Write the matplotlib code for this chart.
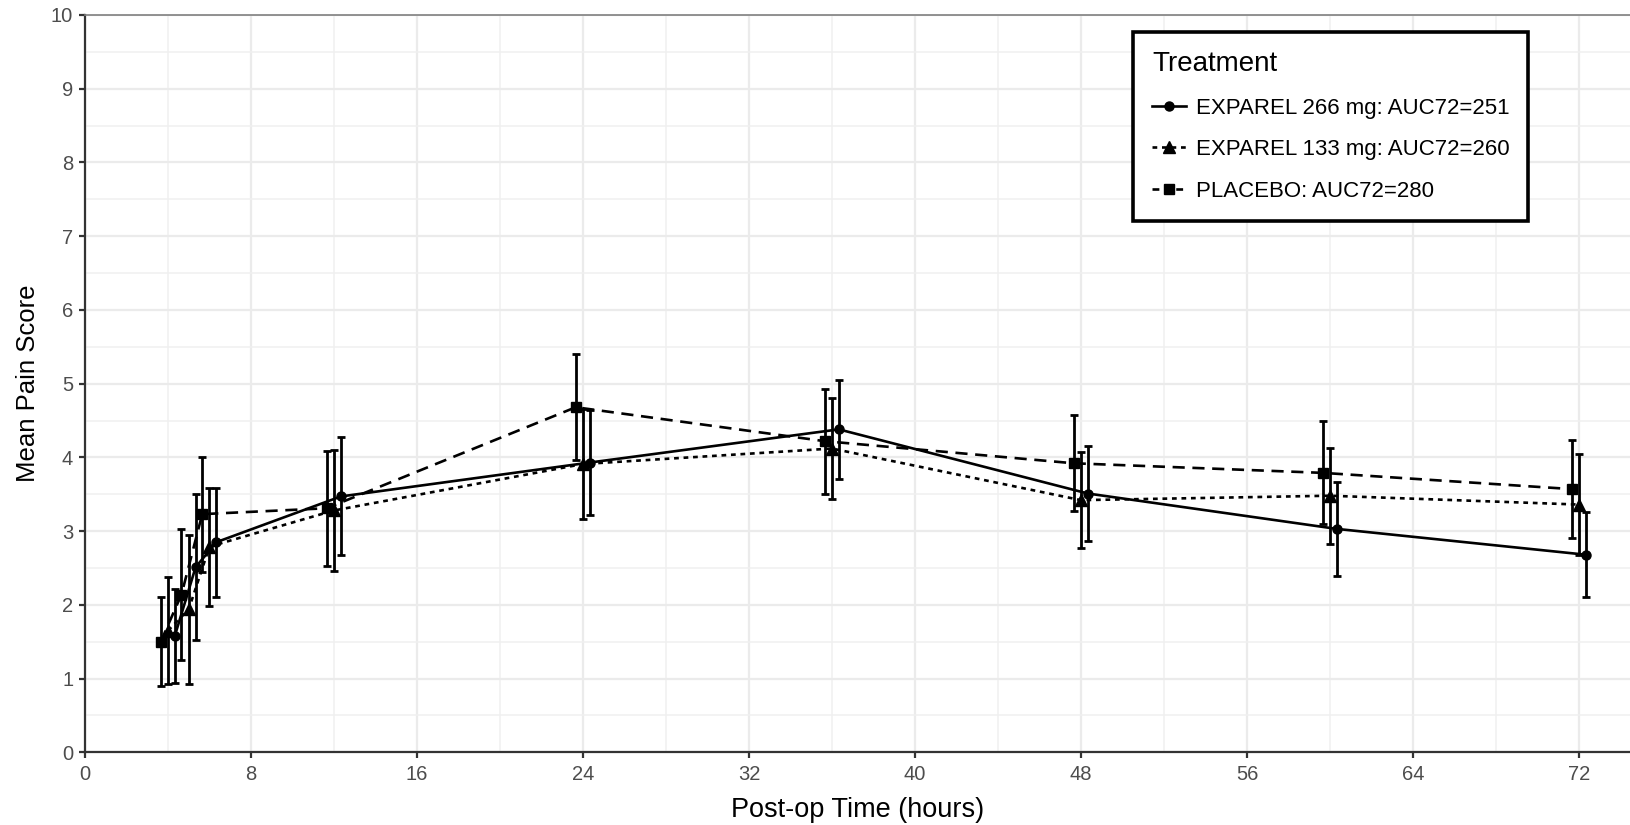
import matplotlib
matplotlib.use("Agg")
import matplotlib.pyplot as plt
from matplotlib.lines import Line2D
import numpy as np

plt.rcParams['font.family'] = ['Liberation Sans', 'DejaVu Sans']

# Nominal assessment times (hours)
times = np.array([4, 5, 6, 12, 24, 36, 48, 60, 72])

# Mean pain score and half-width of the error bar per treatment
mean_266 = [1.58, 2.51, 2.85, 3.47, 3.93, 4.38, 3.51, 3.03, 2.68]
err_266 = [0.64, 0.99, 0.74, 0.80, 0.71, 0.67, 0.65, 0.64, 0.58]

mean_133 = [1.65, 1.94, 2.79, 3.28, 3.91, 4.12, 3.42, 3.48, 3.36]
err_133 = [0.73, 1.01, 0.80, 0.82, 0.75, 0.69, 0.65, 0.65, 0.68]

mean_pbo = [1.50, 2.14, 3.23, 3.31, 4.68, 4.22, 3.92, 3.79, 3.57]
err_pbo = [0.60, 0.89, 0.78, 0.78, 0.72, 0.71, 0.65, 0.70, 0.66]

labels = ['EXPAREL 266 mg: AUC72=251',
          'EXPAREL 133 mg: AUC72=260',
          'PLACEBO: AUC72=280']

fig = plt.figure(figsize=(16.3, 8.25), dpi=100)
ax = fig.add_axes([85 / 1630, 72.7 / 825, 1 - 85 / 1630, (752.3 - 15) / 825])

DOTTED = (0, (1.8, 1.8))
DASHED = (0, (4.6, 2.9))

# series: (means, errors, dodge offset, marker, marker size, line style)
series = [
    (mean_266, err_266, 0.33, 'o', 6.5, '-'),
    (mean_133, err_133, 0.0, '^', 8, DOTTED),
    (mean_pbo, err_pbo, -0.35, 's', 7, DASHED),
]

for means, errs, dx, mk, ms, ls in series:
    x = times + dx
    ax.plot(x, means, color='black', lw=1.9, linestyle=ls, marker=mk,
            markersize=ms, zorder=3)
    ax.errorbar(x, means, yerr=errs, fmt='none', ecolor='black',
                elinewidth=2.0, capsize=3.0, capthick=2.0, zorder=3)

ax.set_xlim(0, 74.46)
ax.set_ylim(0, 10)
ax.set_xticks(np.arange(0, 73, 8))
ax.set_xticks(np.arange(4, 75, 8), minor=True)
ax.set_yticks(np.arange(0, 11, 1))
ax.set_yticks(np.arange(0.5, 10, 1), minor=True)

ax.grid(which='major', color='#EBEBEB', lw=1.6, zorder=0)
ax.grid(which='minor', color='#F0F0F0', lw=1.1, zorder=0)
ax.set_axisbelow(True)

for side in ('left', 'bottom'):
    ax.spines[side].set_color('#333333')
    ax.spines[side].set_linewidth(1.6)
ax.spines['top'].set_color('#7F7F7F')
ax.spines['top'].set_linewidth(1.2)
ax.spines['right'].set_visible(False)

ax.tick_params(which='major', length=4.5, width=1.6, color='#333333',
               labelsize=14.5, labelcolor='#4D4D4D')
ax.tick_params(axis='y', pad=4)
ax.tick_params(axis='x', pad=5)
ax.tick_params(which='minor', length=0)

ax.set_xlabel('Post-op Time (hours)', fontsize=19.5, labelpad=9)
ax.set_ylabel('Mean Pain Score', fontsize=18.5, labelpad=8)

handles = [
    Line2D([], [], color='black', lw=1.9, linestyle='-', marker='o', markersize=6.5),
    Line2D([], [], color='black', lw=1.9, linestyle=(0, (1.8, 1.8)), marker='^', markersize=8),
    Line2D([], [], color='black', lw=1.9, linestyle=(0, (2.6, 1.9)), marker='s', markersize=7),
]
leg = ax.legend(handles, labels, title='Treatment', loc='upper left',
                bbox_to_anchor=(1133 / 1630, 1 - 32 / 825),
                bbox_transform=fig.transFigure, borderaxespad=0,
                fontsize=16, title_fontsize=20, numpoints=1,
                handlelength=1.53, handletextpad=0.45, labelspacing=0.93,
                borderpad=0.85, fancybox=False, framealpha=1,
                edgecolor='black', alignment='left')
leg.get_frame().set_linewidth(2.6)

fig.savefig('out.png', dpi=100, facecolor='white')
